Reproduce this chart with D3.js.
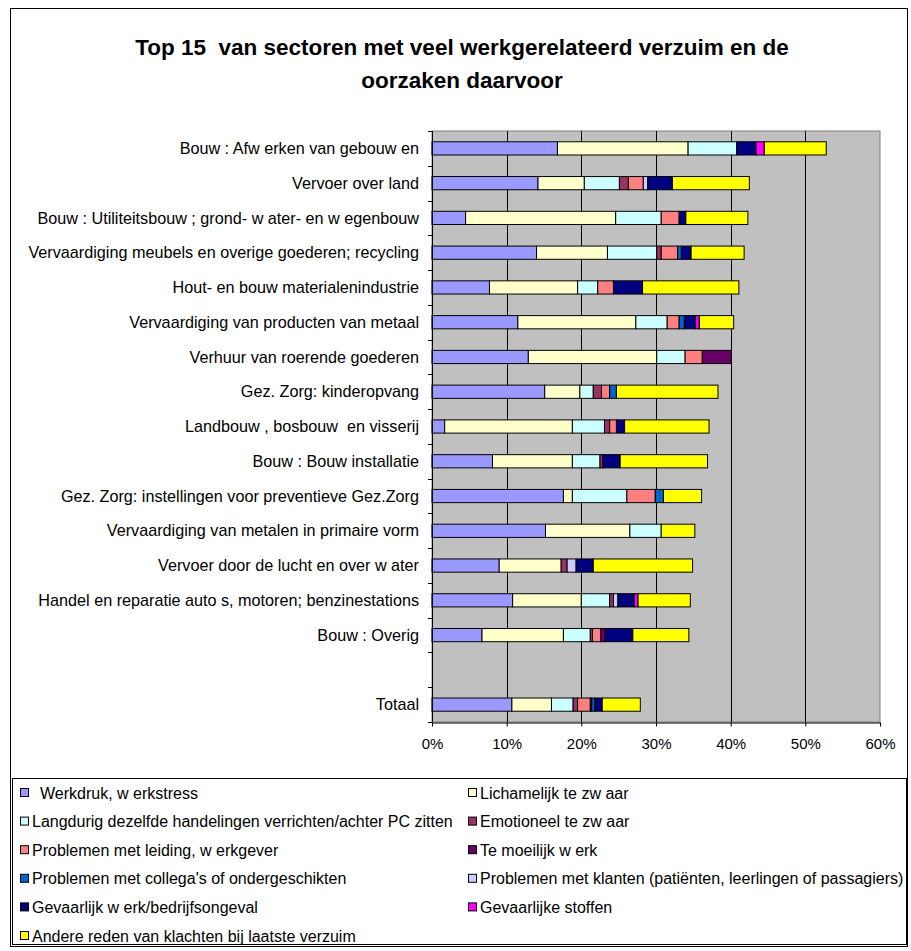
<!DOCTYPE html>
<html>
<head>
<meta charset="utf-8">
<script src="https://cdn.jsdelivr.net/npm/d3@7"></script>
<style>
html,body{margin:0;padding:0;background:#fff;}
svg text{font-family:Arial,"Liberation Sans",sans-serif;}
</style>
</head>
<body>
<svg id="chart" width="911" height="951"></svg>
<script>
const categories = [
  "Bouw : Afw erken van gebouw en",
  "Vervoer over land",
  "Bouw : Utiliteitsbouw ; grond- w ater- en w egenbouw",
  "Vervaardiging meubels en overige goederen; recycling",
  "Hout- en bouw materialenindustrie",
  "Vervaardiging van producten van metaal",
  "Verhuur van roerende goederen",
  "Gez. Zorg: kinderopvang",
  "Landbouw , bosbouw  en visserij",
  "Bouw : Bouw installatie",
  "Gez. Zorg: instellingen voor preventieve Gez.Zorg",
  "Vervaardiging van metalen in primaire vorm",
  "Vervoer door de lucht en over w ater",
  "Handel en reparatie auto s, motoren; benzinestations",
  "Bouw : Overig",
  "",
  "Totaal"
];
const seriesNames = [
  "Werkdruk, w erkstress",
  "Lichamelijk te zw aar",
  "Langdurig dezelfde handelingen verrichten/achter PC zitten",
  "Emotioneel te zw aar",
  "Problemen met leiding, w erkgever",
  "Te moeilijk w erk",
  "Problemen met collega's of ondergeschikten",
  "Problemen met klanten (patiënten, leerlingen of passagiers)",
  "Gevaarlijk w erk/bedrijfsongeval",
  "Gevaarlijke stoffen",
  "Andere reden van klachten bij laatste verzuim"
];
const seriesColors = ["#9999FF","#FFFFCC","#CCFFFF","#993366","#FF8080","#660066","#0066CC","#CCCCFF","#000080","#FF00FF","#FFFF00"];
// values in % per category (blank row = null)
const werkdruk     = [16.8,14.2, 4.5,14.0, 7.7,11.5,12.9,15.1, 1.7, 8.1,17.6,15.2, 9.0,10.8, 6.7,null,10.7];
const lichamelijk  = [17.5, 6.2,20.1, 9.5,11.8,15.8,17.2, 4.7,17.1,10.7, 1.2,11.3, 8.3, 9.2,10.9,null, 5.3];
const langdurig    = [ 6.5, 4.7, 6.1, 6.6, 2.7, 4.2, 3.8, 1.8, 4.3, 3.7, 7.3, 4.2, 0.0, 3.8, 3.6,null, 2.9];
const emotioneel   = [ 0.0, 1.2, 0.0, 0.6, 0.0, 0.0, 0.0, 1.1, 0.7, 0.4, 0.0, 0.0, 0.8, 0.5, 0.3,null, 0.6];
const leiding      = [ 0.0, 2.0, 2.4, 2.2, 2.1, 1.6, 2.3, 1.1, 0.9, 0.0, 3.8, 0.0, 0.0, 0.0, 1.1,null, 1.7];
const moeilijk     = [ 0.0, 0.0, 0.0, 0.0, 0.0, 0.0, 3.9, 0.0, 0.0, 0.0, 0.0, 0.0, 0.0, 0.0, 0.6,null, 0.2];
const collega      = [ 0.0, 0.0, 0.0, 0.5, 0.0, 0.7, 0.0, 0.9, 0.0, 0.0, 1.1, 0.0, 0.0, 0.0, 0.0,null, 0.4];
const klanten      = [ 0.0, 0.6, 0.0, 0.0, 0.0, 0.0, 0.0, 0.0, 0.0, 0.0, 0.0, 0.0, 1.2, 0.6, 0.0,null, 0.0];
const gevaarlijk   = [ 2.6, 3.3, 0.9, 1.3, 3.9, 1.5, 0.0, 0.0, 1.1, 2.3, 0.0, 0.0, 2.3, 2.2, 3.7,null, 1.0];
const stoffen      = [ 1.1, 0.0, 0.0, 0.0, 0.0, 0.5, 0.0, 0.0, 0.0, 0.0, 0.0, 0.0, 0.0, 0.5, 0.0,null, 0.0];
const andere       = [ 8.3,10.3, 8.3, 7.1,12.9, 4.6, 0.0,13.6,11.3,11.7, 5.1, 4.5,13.3, 7.0, 7.5,null, 5.1];
const xTicks = [0,10,20,30,40,50,60];
const titleLines = ["Top 15  van sectoren met veel werkgerelateerd verzuim en de","oorzaken daarvoor"];

const seriesValues = [werkdruk,lichamelijk,langdurig,emotioneel,leiding,moeilijk,collega,klanten,gevaarlijk,stoffen,andere];
const rows = categories.map((c,i)=>{
  const r = {cat:c, idx:i};
  seriesNames.forEach((s,j)=>{ r[s] = seriesValues[j][i] || 0; });
  return r;
});

const svg = d3.select("#chart");
// outer chart border
svg.append("rect").attr("x",10.5).attr("y",8.5).attr("width",897).attr("height",938)
  .attr("fill","#fff").attr("stroke","#000").attr("stroke-width",1);

// title
svg.append("text").attr("x",462).attr("y",55).attr("text-anchor","middle")
  .style("font-size","22.5px").style("font-weight","bold").style("white-space","pre")
  .selectAll("tspan").data(titleLines).join("tspan")
  .attr("x",462).attr("dy",(d,i)=>i===0?0:33).text(d=>d);

const plot = {left:432, right:880, top:131, bottom:722};
const x = d3.scaleLinear().domain([0,60]).range([plot.left,plot.right]);
const y = d3.scaleBand().domain(d3.range(categories.length)).range([plot.top,plot.bottom]).paddingInner(0.62).paddingOuter(0.31);

svg.append("rect").attr("x",plot.left).attr("y",plot.top).attr("width",plot.right-plot.left).attr("height",plot.bottom-plot.top)
  .attr("fill","#C0C0C0").attr("stroke","#808080");

// gridlines
svg.append("g").selectAll("line").data(xTicks.slice(1,-1)).join("line")
  .attr("x1",d=>Math.round(x(d))+0.5).attr("x2",d=>Math.round(x(d))+0.5)
  .attr("y1",plot.top).attr("y2",plot.bottom).attr("stroke","#000");

// bars
const stack = d3.stack().keys(seriesNames);
const stacked = stack(rows);
const g = svg.append("g");
stacked.forEach((layer,j)=>{
  g.append("g").attr("fill",seriesColors[j]).attr("stroke","#000").attr("stroke-width",1)
    .selectAll("rect").data(layer.filter(d=>d[1]-d[0]>0)).join("rect")
    .attr("x",d=>x(d[0])).attr("width",d=>x(d[1])-x(d[0]))
    .attr("y",d=>y(d.data.idx)).attr("height",y.bandwidth());
});

// y axis
const yAxisG = svg.append("g");
yAxisG.append("line").attr("x1",plot.left+0.5).attr("x2",plot.left+0.5).attr("y1",plot.top).attr("y2",plot.bottom).attr("stroke","#000");
yAxisG.selectAll("line.tick").data(d3.range(categories.length+1)).join("line").attr("class","tick")
  .attr("x1",plot.left-4).attr("x2",plot.left)
  .attr("y1",d=>Math.round(plot.top + d*(plot.bottom-plot.top)/categories.length)+0.5)
  .attr("y2",d=>Math.round(plot.top + d*(plot.bottom-plot.top)/categories.length)+0.5).attr("stroke","#000");
yAxisG.selectAll("text").data(categories).join("text")
  .attr("x",419).attr("y",(d,i)=>y(i)+y.bandwidth()/2).attr("dy","0.35em")
  .attr("text-anchor","end").style("font-size","16.2px").style("white-space","pre").attr("fill","#000")
  .text(d=>d);

// x axis
const xAxis = d3.axisBottom(x).tickValues(xTicks).tickFormat(d=>d+"%").tickSize(4).tickSizeOuter(0);
const xg = svg.append("g").attr("transform",`translate(0,${plot.bottom+0.5})`).call(xAxis);
xg.select(".domain").attr("stroke","#000");
xg.selectAll(".tick line").attr("stroke","#000");
xg.selectAll(".tick text").attr("y",16).style("font-size","15px").style("font-family","Arial, 'Liberation Sans', sans-serif").attr("fill","#000");

// legend
const legX = [20, 468], legY0 = 793, legDy = 28.6;
svg.append("rect").attr("x",12.5).attr("y",778.5).attr("width",894).attr("height",166).attr("fill","#fff").attr("stroke","#000");
const leg = svg.append("g").selectAll("g").data(seriesNames).join("g")
  .attr("transform",(d,i)=>`translate(${legX[i%2]},${legY0 + Math.floor(i/2)*legDy})`);
leg.append("rect").attr("x",0.5).attr("y",-4.5).attr("width",8).attr("height",8)
  .attr("fill",(d,i)=>seriesColors[i]).attr("stroke","#000");
leg.append("text").attr("x",(d,i)=>i===0?20:12).attr("y",0).attr("dy","0.35em")
  .style("font-size","16px").text(d=>d);
</script>
</body>
</html>
